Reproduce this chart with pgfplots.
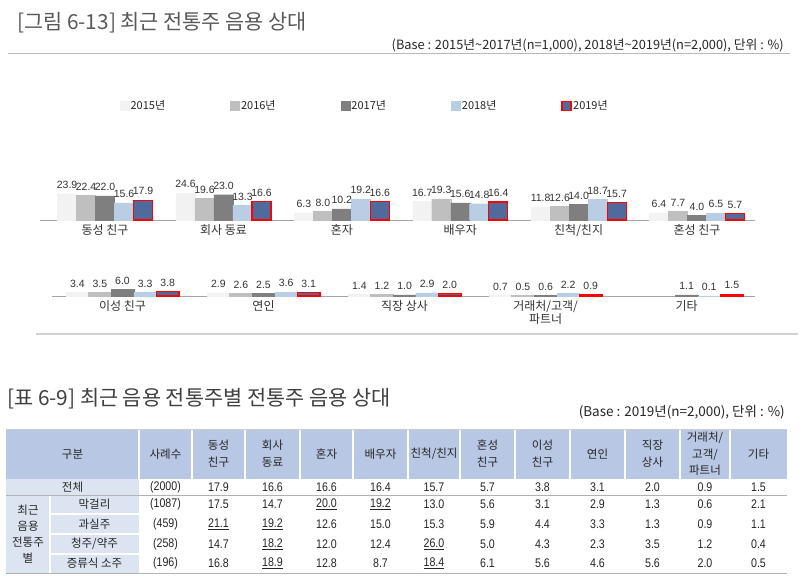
\documentclass[border=0pt]{standalone}
\usepackage{pgfplots}
\pgfplotsset{compat=1.18}
\usepackage{fontspec}
\setmainfont{Noto Sans CJK KR}
\newfontfamily\numfont{Liberation Sans}
\newfontfamily\narrowfont[FakeStretch=0.85]{Liberation Sans}
\definecolor{c2015}{RGB}{242,242,242}
\definecolor{c2016}{RGB}{191,191,191}
\definecolor{c2017}{RGB}{127,127,127}
\definecolor{c2018}{RGB}{185,205,229}
\definecolor{c2019}{RGB}{80,106,156}
\definecolor{titlegray}{RGB}{89,89,89}
\definecolor{labelgray}{RGB}{50,50,50}
\definecolor{hdr}{RGB}{184,199,227}
\definecolor{lbl}{RGB}{220,228,242}
\pgfplotsset{
  barstyle/.style={
    scale only axis, clip=false,
    ybar=0pt, ymin=0,
    axis x line=bottom, axis y line=none,
    axis line style={draw=gray!70, line width=1pt, -},
    xtick style={draw=none}, major tick length=0pt, ytick=\empty,
    xticklabel style={font=\fontsize{12}{13.5}\selectfont, text=labelgray, align=center, anchor=north, inner sep=0pt, yshift=-4pt},
    /pgf/number format/assume math mode=true,
    nodes near coords={\pgfmathprintnumber[fixed,fixed zerofill,precision=1,assume math mode=true]{\pgfplotspointmeta}},
    every node near coord/.append style={font=\numfont\fontsize{10.5}{12}\selectfont, text=black!80, yshift=1.5pt},
  }
}
\begin{document}
\begin{tikzpicture}[x=1pt,y=1pt]
\path[use as bounding box, fill=white] (0,0) rectangle (800,-579);
% ---- figure title
\node[anchor=west, text=titlegray, font=\fontsize{20.8}{24}\selectfont, inner sep=0] at (17,-23) {[그림 6-13] 최근 전통주 음용 상대};
\draw[gray!55, line width=0.8pt] (8,-53) -- (790,-53);
\node[anchor=east, inner sep=0, font=\fontsize{12.8}{15}\selectfont, text=black!85] at (784,-45) {(Base : 2015년\textasciitilde2017년(n=1,000), 2018년\textasciitilde2019년(n=2,000), 단위 : \%)};

% ---- top bar chart
\begin{axis}[barstyle,
  at={(40pt,-220pt)}, anchor=south west,
  width=715pt, height=33pt,
  xmin=-0.55, xmax=5.49, ymax=30,
  bar width=19pt,
  xtick={0,1,2,3,4,5},
  xticklabels={동성 친구, 회사 동료, 혼자, 배우자, 친척/친지, 혼성 친구},
  legend columns=5,
  legend style={at={(0.1112,3.4545)}, anchor=west, draw=none, fill=none, inner sep=0pt,
    font=\fontsize{11}{13}\selectfont, text=black!85,
    nodes={inner sep=1.5pt},
    /tikz/every even column/.append style={column sep=63.5pt}},
  legend image code/.code={\draw[#1] (0pt,-4.5pt) rectangle (9pt,4.5pt);},
]
\addplot[fill=c2015, draw=c2015] coordinates {(0,23.9) (1,24.6) (2,6.3) (3,16.7) (4,11.8) (5,6.4)};
\addplot[fill=c2016, draw=c2016] coordinates {(0,22.4) (1,19.6) (2,8.0) (3,19.3) (4,12.6) (5,7.7)};
\addplot[fill=c2017, draw=c2017] coordinates {(0,22.0) (1,23.0) (2,10.2) (3,15.6) (4,14.0) (5,4.0)};
\addplot[fill=c2018, draw=c2018] coordinates {(0,15.6) (1,13.3) (2,19.2) (3,14.8) (4,18.7) (5,6.5)};
\addplot[fill=c2019, draw=red, line width=1.2pt] coordinates {(0,17.9) (1,16.6) (2,16.6) (3,16.4) (4,15.7) (5,5.7)};
\legend{2015년, 2016년, 2017년, 2018년, 2019년}
\end{axis}

% ---- bottom bar chart
\begin{axis}[barstyle,
  at={(52pt,-296pt)}, anchor=south west,
  width=703pt, height=11pt,
  xmin=-0.5, xmax=4.485, ymax=10,
  bar width=22.6pt,
  xtick={0,1,2,3,4},
  xticklabels={이성 친구, 연인, 직장 상사, {거래처/고객/\\파트너}, 기타},
]
\addplot[fill=c2015, draw=c2015] coordinates {(0,3.4) (1,2.9) (2,1.4) (3,0.7)};
\addplot[fill=c2016, draw=c2016] coordinates {(0,3.5) (1,2.6) (2,1.2) (3,0.5)};
\addplot[fill=c2017, draw=c2017] coordinates {(0,6.0) (1,2.5) (2,1.0) (3,0.6) (4,1.1)};
\addplot[fill=c2018, draw=c2018] coordinates {(0,3.3) (1,3.6) (2,2.9) (3,2.2) (4,0.1)};
\addplot[fill=c2019, draw=red, line width=1.2pt] coordinates {(0,3.8) (1,3.1) (2,2.0) (3,0.9) (4,1.5)};
\end{axis}

\draw[gray!35, line width=2pt] (36,-334) -- (798,-334);

% ---- table title
\node[anchor=west, text=black!75, font=\fontsize{20.8}{24}\selectfont, inner sep=0] at (7,-399) {[표 6-9] 최근 음용 전통주별 전통주 음용 상대};
\node[anchor=east, inner sep=0, font=\fontsize{13.5}{15}\selectfont, text=black!85] at (785,-412) {(Base : 2019년(n=2,000), 단위 : \%)};

% ---- table
\fill[hdr] (6,-429) rectangle (787,-479);
\fill[lbl] (6,-479) rectangle (139,-573);
\foreach \x in {139,192,245,300,353,408,460,515,570,625,680,730}
  \draw[white, line width=1.5pt] (\x,-429) -- (\x,-479);
\draw[white, line width=1.5pt] (50,-495) -- (50,-573);
\foreach \yy in {514,534,554}
  \draw[white, line width=1.5pt] (50,-\yy) -- (139,-\yy);
\draw[gray!40, line width=0.6pt] (6,-429) -- (787,-429);
\draw[gray!60, line width=1pt] (6,-495) -- (787,-495);
\draw[gray!60, line width=1pt] (6,-573) -- (787,-573);

\begin{scope}[every node/.style={font=\fontsize{11.5}{17}\selectfont, text=black!85, align=center, inner sep=0}]
\node at (72.5,-454) {구분};
\node at (165.5,-454) {사례수};
\node at (218.5,-454) {동성\\친구};
\node at (272.5,-454) {회사\\동료};
\node at (326.5,-454) {혼자};
\node at (380.5,-454) {배우자};
\node at (434,-454) {친척/친지};
\node at (487.5,-454) {혼성\\친구};
\node at (542.5,-454) {이성\\친구};
\node at (597.5,-454) {연인};
\node at (652.5,-454) {직장\\상사};
\node[font=\fontsize{11.5}{16.5}\selectfont] at (705,-454) {거래처/\\고객/\\파트너};
\node at (758.5,-454) {기타};
\node at (72.5,-487) {전체};
\node[font=\fontsize{11.5}{16}\selectfont] at (28,-534) {최근\\음용\\전통주\\별};
\node at (94.5,-504.5) {막걸리};
\node at (94.5,-524) {과실주};
\node at (94.5,-544) {청주/약주};
\node at (94.5,-563.5) {증류식 소주};
\end{scope}

\begin{scope}[every node/.style={font=\narrowfont\fontsize{12.5}{14}\selectfont, text=black!85, inner sep=0}]
\foreach \x/\v in {165.5/(2000),218.5/17.9,272.5/16.6,326.5/16.6,380.5/16.4,434/15.7,487.5/5.7,542.5/3.8,597.5/3.1,652.5/2.0,705/0.9,758.5/1.5}
  \node at (\x,-487) {\v};
\foreach \x/\v in {165.5/(1087),218.5/17.5,272.5/14.7,326.5/{\underline{20.0}},380.5/{\underline{19.2}},434/13.0,487.5/5.6,542.5/3.1,597.5/2.9,652.5/1.3,705/0.6,758.5/2.1}
  \node at (\x,-504.5) {\v};
\foreach \x/\v in {165.5/(459),218.5/{\underline{21.1}},272.5/{\underline{19.2}},326.5/12.6,380.5/15.0,434/15.3,487.5/5.9,542.5/4.4,597.5/3.3,652.5/1.3,705/0.9,758.5/1.1}
  \node at (\x,-524) {\v};
\foreach \x/\v in {165.5/(258),218.5/14.7,272.5/{\underline{18.2}},326.5/12.0,380.5/12.4,434/{\underline{26.0}},487.5/5.0,542.5/4.3,597.5/2.3,652.5/3.5,705/1.2,758.5/0.4}
  \node at (\x,-544) {\v};
\foreach \x/\v in {165.5/(196),218.5/16.8,272.5/{\underline{18.9}},326.5/12.8,380.5/8.7,434/{\underline{18.4}},487.5/6.1,542.5/5.6,597.5/4.6,652.5/5.6,705/2.0,758.5/0.5}
  \node at (\x,-563.5) {\v};
\end{scope}
\end{tikzpicture}
\end{document}
